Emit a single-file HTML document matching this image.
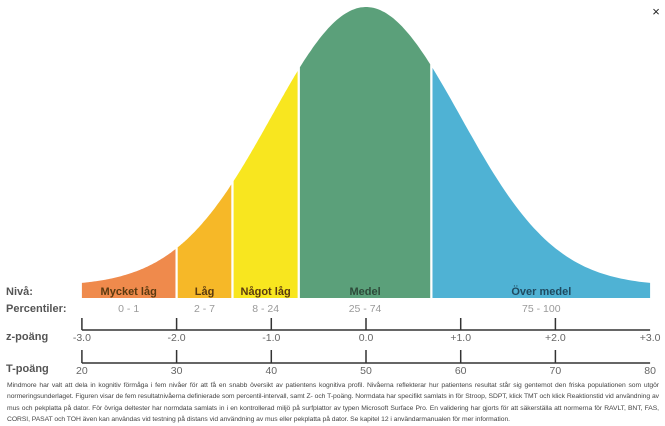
<!DOCTYPE html>
<html><head><meta charset="utf-8"><style>
body{margin:0;width:665px;height:424px;background:#fff;overflow:hidden;font-family:"Liberation Sans",sans-serif}
.fn{position:absolute;left:7px;top:380px;width:652px;font-size:6.75px;line-height:11.4px;color:#444;text-align:justify;letter-spacing:-0.05px}
</style></head><body>
<svg width="665" height="424" style="position:absolute;left:0;top:0">
<g id="chart"></g>
<text x="656" y="16" font-size="13" fill="#222" text-anchor="middle">×</text>
</svg>
<div class="fn">Mindmore har valt att dela in kognitiv förmåga i fem nivåer för att få en snabb översikt av patientens kognitiva profil. Nivåerna reflekterar hur patientens resultat står sig gentemot den friska populationen som utgör normeringsunderlaget. Figuren visar de fem resultatnivåerna definierade som percentil-intervall, samt Z- och T-poäng. Normdata har specifikt samlats in för Stroop, SDPT, klick TMT och klick Reaktionstid vid användning av mus och pekplatta på dator. För övriga deltester har normdata samlats in i en kontrollerad miljö på surfplattor av typen Microsoft Surface Pro. En validering har gjorts för att säkerställa att normerna för RAVLT, BNT, FAS, CORSI, PASAT och TOH även kan användas vid testning på distans vid användning av mus eller pekplatta på dator. Se kapitel 12 i användarmanualen för mer information.</div>
<script>
const levels=["Mycket låg","Låg","Något låg","Medel","Över medel"];
const zBounds=[-3,-2,-1.41,-0.71,0.69,3];
const percentiles=["0 - 1","2 - 7","8 - 24","25 - 74","75 - 100"];
const colors=["#ef8a4c","#f6b828","#f8e61f","#5ba07a","#4fb2d4"];
const zTicks=["-3.0","-2.0","-1.0","0.0","+1.0","+2.0","+3.0"];
const tTicks=["20","30","40","50","60","70","80"];
const ns="http://www.w3.org/2000/svg";
const g=document.getElementById('chart');
const xS=z=>366+z*94.7;
const yS=z=>286-279*Math.exp(-z*z/2);
const base=298;
function mk(t,a,txt){const e=document.createElementNS(ns,t);for(const k in a)e.setAttribute(k,a[k]);if(txt!==undefined)e.textContent=txt;g.appendChild(e);return e;}
levels.forEach((lv,i)=>{
 const z0=zBounds[i]+(i?0.012:0),z1=zBounds[i+1]-(i<4?0.012:0);
 let d=`M${xS(z0)},${base}`;
 for(let k=0;k<=60;k++){const z=z0+(z1-z0)*k/60;d+=` L${xS(z).toFixed(1)},${yS(z).toFixed(1)}`;}
 d+=` L${xS(z1)},${base} Z`;
 const p=mk('path',{d,fill:colors[i]});
 
 
 const cx=(xS(z0)+xS(z1))/2;
 const t=mk('text',{x:cx,y:295,'font-size':11,'font-weight':'bold','fill':i==3?'#2e4a3a':i==4?'#1f4a60':'#5a3a10','text-anchor':'middle'},lv);
 
 
 const pt=mk('text',{x:cx,y:312,'font-size':10.5,fill:'#9a9a9a','text-anchor':'middle'},percentiles[i]);
 
 
});
[["Nivå:",295],["Percentiler:",312],["z-poäng",340],["T-poäng",372]].forEach(r=>{
 const t=mk('text',{x:6,y:r[1],'font-size':11,'font-weight':'bold',fill:'#555'},r[0]);
 
 
});
function axis(ticks,ly,ty0,labY,name){
 const l=mk('line',{x1:xS(-3),x2:xS(3),y1:ly,y2:ly,stroke:'#333','stroke-width':1.5});
 
 
 ticks.forEach((tk,i)=>{
  const x=xS(i-3);
  if(i<6){const tl=mk('line',{x1:x,x2:x,y1:ty0,y2:ly,stroke:'#333','stroke-width':1.5});
  
  }
  const t=mk('text',{x:x,y:labY,'font-size':10.5,fill:'#666','text-anchor':'middle'},tk);
  
  
 });
}
axis(zTicks,330,318,341,'z-score');
axis(tTicks,363,350,374,'t-score');
</script>
</body></html>
